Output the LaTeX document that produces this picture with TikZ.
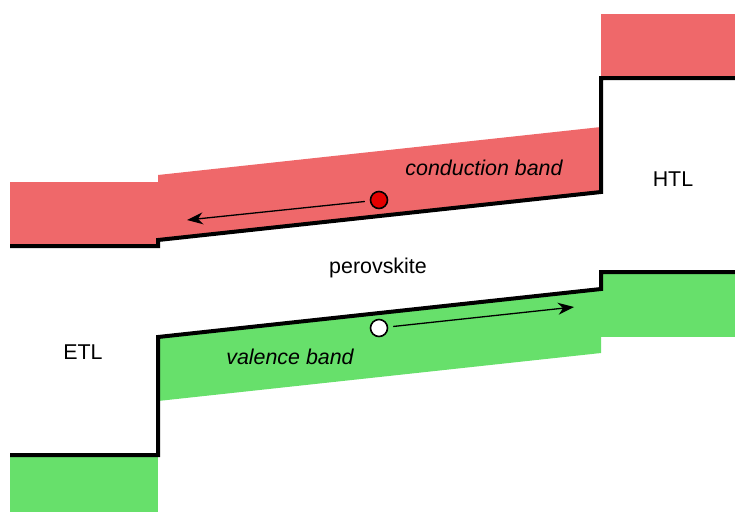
\documentclass[tikz,border=0pt]{standalone}
\usepackage{fontspec}
\setmainfont{Liberation Sans}
\usetikzlibrary{arrows.meta}
\definecolor{cbred}{RGB}{239, 104, 106}
\definecolor{vbgreen}{RGB}{103, 224, 107}

\begin{document}
\begin{tikzpicture}[
    x=1pt, y=-1pt,
    edge/.style={line width=4pt, black},
    lbl/.style={font=\fontsize{21.4}{25}\selectfont, inner sep=0pt},
    carrier/.style={circle, draw=black, line width=1.6pt, minimum size=17pt, inner sep=0pt},
    drift/.style={line width=1.3pt, shorten <=5pt, -{Stealth[length=16pt, width=12pt, inset=5pt]}}
]
\useasboundingbox (0,0) rectangle (735,512);

% Banda di conduzione
\fill[cbred] (10,182) rectangle (158,246);
\fill[cbred] (158,175) -- (601,127) -- (601,192) -- (158,240) -- cycle;
\fill[cbred] (601,14) rectangle (735,78);
\draw[edge] (10,246) -- (158,246) -- (158,240) -- (601,192) -- (601,78) -- (735,78);

% Banda di valenza
\fill[vbgreen] (10,455) rectangle (158,512);
\fill[vbgreen] (158,337) -- (601,289) -- (601,353) -- (158,401) -- cycle;
\fill[vbgreen] (601,272) rectangle (735,337);
\draw[edge] (10,455) -- (158,455) -- (158,337) -- (601,289) -- (601,272) -- (735,272);

% Etichette
\node[lbl, font=\fontsize{21.4}{25}\selectfont\itshape] (cb) at (484,168) {conduction band};
\node[lbl, font=\fontsize{21.4}{25}\selectfont\itshape] (vb) at (290,357) {valence band};
\node[lbl] (htl) at (673,179) {HTL};
\node[lbl] (etl) at (83,352) {ETL};
\node[lbl] (pero) at (378,268) {perovskite};

% Elettrone e lacuna
\node[carrier, fill=red!90!black] (el) at (379,200) {};
\node[carrier, fill=white] (ho) at (379,328) {};
\coordinate (elend) at (187,220);
\coordinate (hoend) at (574,307);
\draw[drift] (el) -- (elend);
\draw[drift] (ho) -- (hoend);

\end{tikzpicture}
\end{document}
